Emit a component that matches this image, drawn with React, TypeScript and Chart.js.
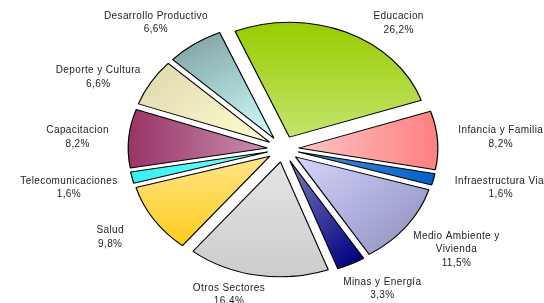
import React, { useEffect, useRef } from "react";
import { Chart, registerables } from "chart.js";

Chart.register(...registerables);

// ---- data ----
const categories: string[] = [
  "Educacion",
  "Infancia y Familia",
  "Infraestructura Vial",
  "Medio Ambiente y\nVivienda",
  "Minas y Energía",
  "Otros Sectores",
  "Salud",
  "Telecomunicaciones",
  "Capacitacion",
  "Deporte y Cultura",
  "Desarrollo Productivo",
];
const shares: number[] = [26.2, 8.2, 1.6, 11.5, 3.3, 16.4, 9.8, 1.6, 8.2, 6.6, 6.6];

// ---- styles ----
// [start colour, end colour, gradient direction in degrees]
const FILLS: [string, string, number][] = [
  ["#99cc00", "#c4e46c", 90],
  ["#ffc4c4", "#ff8080", 0],
  ["#4d8fdc", "#0060c8", 0],
  ["#d4d4ff", "#9c9cc8", 45],
  ["#7a7abf", "#000080", 45],
  ["#e4e4e4", "#cccccc", 90],
  ["#ffe58a", "#ffcc1a", 90],
  ["#33f0f0", "#80ffff", 0],
  ["#993366", "#c890b0", 0],
  ["#e2dcb0", "#ffffd2", 45],
  ["#86aaaa", "#d0ffff", 60],
];
// small label adjustments [dx, dy] relative to automatic outside placement
const LABEL_NUDGE: [number, number][] = [
  [40, 7],
  [16, -2],
  [18, 4],
  [12, 8],
  [12, 9],
  [-22, 2],
  [-28, 8],
  [-11, 6],
  [-15, 0],
  [-12, 4],
  [-6, -7],
];

const ROTATION = -23;
const RADIUS = 115;
const EXPLODE = 13;
const SX = 1.21;
const LABEL_GAP = 4;
const LINE_H = 13.5;
const FONT = '10px "Liberation Sans", Arial, sans-serif';

const total = shares.reduce((a, b) => a + b, 0);

function sliceFill(c: any) {
  const i = c.dataIndex;
  if (i === undefined || i === null) return FILLS[0][1];
  const [c0, c1, deg] = FILLS[i];
  const chart = c.chart;
  const area = chart.chartArea;
  if (!area) return c1;
  const cx = (area.left + area.right) / 2;
  const cy = (area.top + area.bottom) / 2;
  let before = 0;
  for (let k = 0; k < i; k++) before += shares[k];
  const a0 = ((ROTATION - 90) * Math.PI) / 180 + (before / total) * 2 * Math.PI;
  const a1 = a0 + (shares[i] / total) * 2 * Math.PI;
  const dx = Math.cos((deg * Math.PI) / 180);
  const dy = Math.sin((deg * Math.PI) / 180);
  let mn = 0;
  let mx = 0;
  for (let s = 0; s <= 24; s++) {
    const a = a0 + ((a1 - a0) * s) / 24;
    const p = RADIUS * (Math.cos(a) * dx + Math.sin(a) * dy);
    mn = Math.min(mn, p);
    mx = Math.max(mx, p);
  }
  if (mx - mn < 1) mx = mn + 1;
  const g = chart.ctx.createLinearGradient(cx + dx * mn, cy + dy * mn, cx + dx * mx, cy + dy * mx);
  g.addColorStop(0, c0);
  g.addColorStop(1, c1);
  return g;
}

const explodedPie = {
  id: "explodedPie",
  beforeDatasetsDraw(chart: any) {
    const ctx = chart.ctx;
    const meta = chart.getDatasetMeta(0);
    meta.data.forEach((arc: any) => {
      const mid = (arc.startAngle + arc.endAngle) / 2;
      ctx.save();
      ctx.translate(arc.x, arc.y);
      ctx.scale(SX, 1);
      ctx.translate(-arc.x, -arc.y);
      ctx.translate(Math.cos(mid) * EXPLODE, Math.sin(mid) * EXPLODE);
      arc.draw(ctx, chart.chartArea);
      ctx.restore();
    });
    return false;
  },
  afterDraw(chart: any) {
    const ctx = chart.ctx;
    const meta = chart.getDatasetMeta(0);
    ctx.save();
    ctx.font = FONT;
    (ctx as any).letterSpacing = "0.4px";
    ctx.fillStyle = "#222";
    ctx.textAlign = "center";
    ctx.textBaseline = "middle";
    meta.data.forEach((arc: any, i: number) => {
      const mid = (arc.startAngle + arc.endAngle) / 2;
      const c = Math.cos(mid);
      const s = Math.sin(mid);
      const r = arc.outerRadius + EXPLODE + LABEL_GAP;
      const px = arc.x + SX * r * c;
      const py = arc.y + r * s;
      const pct = ((shares[i] / total) * 100).toFixed(1).replace(".", ",") + "%";
      const lines = [...categories[i].split("\n"), pct];
      const w = Math.max(...lines.map((t) => ctx.measureText(t).width));
      const h = lines.length * LINE_H;
      const bx = px + (c * w) / 2 + LABEL_NUDGE[i][0];
      const by = py + (s * h) / 2 + LABEL_NUDGE[i][1];
      lines.forEach((t, k) => {
        ctx.fillText(t, bx, by - h / 2 + LINE_H * (k + 0.5));
      });
    });
    ctx.restore();
  },
};

export default function App() {
  const ref = useRef<HTMLCanvasElement | null>(null);
  useEffect(() => {
    if (!ref.current) return;
    const chart = new Chart(ref.current, {
      type: "pie",
      data: {
        labels: categories,
        datasets: [
          {
            data: shares,
            backgroundColor: sliceFill as any,
            borderColor: "#000000",
            borderWidth: 1,
            radius: RADIUS,
            rotation: ROTATION,
            clip: false,
          } as any,
        ],
      },
      options: {
        responsive: false,
        animation: false,
        events: [],
        rotation: ROTATION,
        radius: RADIUS,
        layout: { padding: { left: 22, right: 0, top: 0, bottom: 5 } },
        plugins: {
          legend: { display: false },
          tooltip: { enabled: false },
        },
      } as any,
      plugins: [explodedPie],
    });
    return () => chart.destroy();
  }, []);
  return (
    <div style={{ position: "absolute", left: 0, top: 0, width: 544, height: 303, background: "#fff" }}>
      <canvas ref={ref} width={544} height={303} style={{ display: "block" }} />
    </div>
  );
}
